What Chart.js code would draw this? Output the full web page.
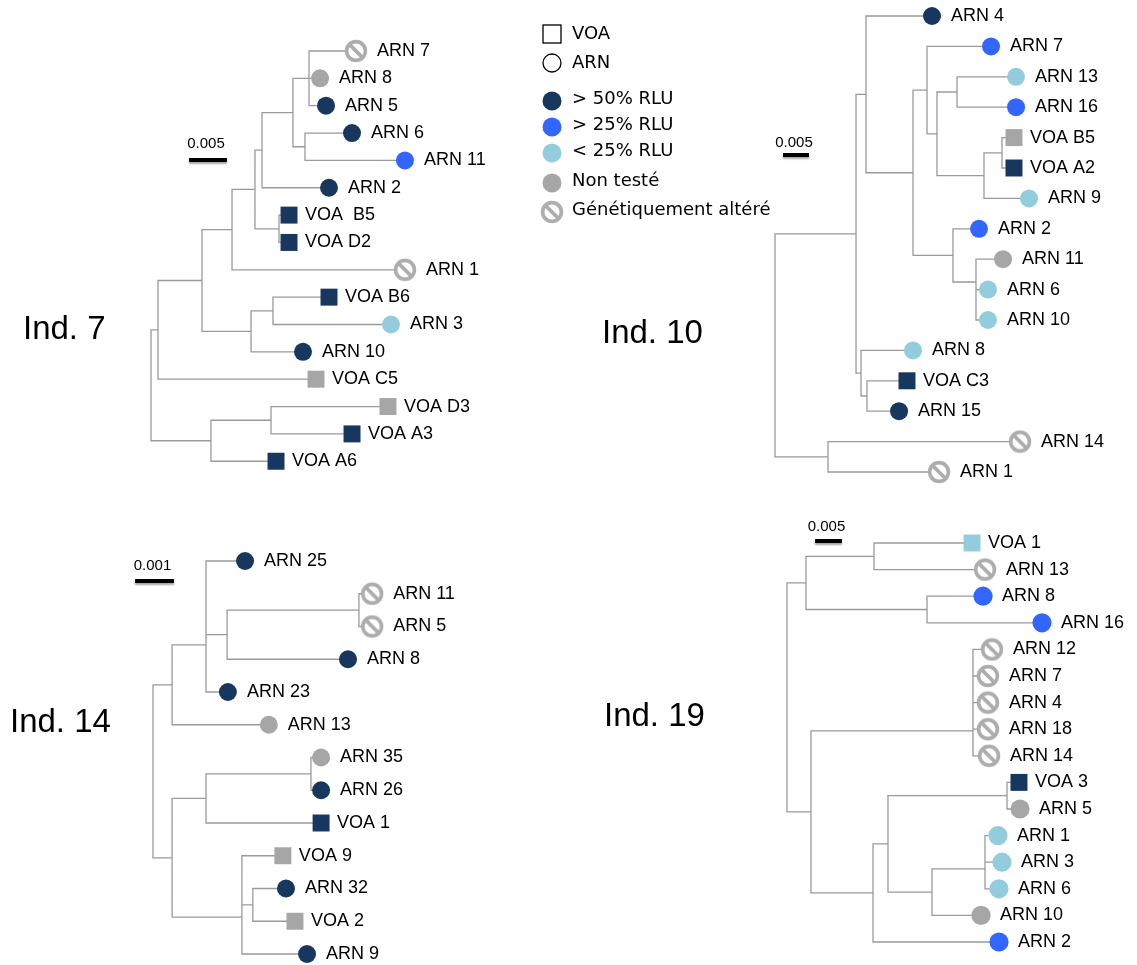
<!DOCTYPE html>
<html>
<head>
<meta charset="utf-8">
<script src="https://cdn.jsdelivr.net/npm/chart.js@4/dist/chart.umd.min.js"></script>
<style>
  html, body { margin: 0; padding: 0; background: #ffffff; }
  #wrap { position: relative; width: 1137px; height: 965px; }
</style>
</head>
<body>
<div id="wrap"><canvas id="c" width="1137" height="965" style="width:1137px;height:965px"></canvas></div>
<script>
// ---------------- DATA ----------------
// Status codes: p50 = > 50% RLU, p25 = > 25% RLU, m25 = < 25% RLU, nt = Non testé, alt = Génétiquement altéré
// Tip / node depths in substitutions per site from the root; "#k" refers to internal node k.

// Ind. 7
const ind7Names  = ["ARN 7","ARN 8","ARN 5","ARN 6","ARN 11","ARN 2","VOA  B5","VOA D2","ARN 1","VOA B6","ARN 3","ARN 10","VOA C5","VOA D3","VOA A3","VOA A6"];
const ind7Status = ["alt","nt","p50","p50","p25","p50","p50","p50","alt","p50","m25","p50","nt","nt","p50","p50"];
const ind7Tip    = [0.02697,0.02224,0.02303,0.02645,0.03342,0.02342,0.01816,0.01816,0.03342,0.02342,0.03158,0.02000,0.02171,0.03118,0.02645,0.01645];
const ind7NodeDepth = [0,0.00092,0.00671,0.01066,0.01368,0.01461,0.01868,0.02079,0.01316,0.01605,0.00789,0.01579,0.01684,0.02026];
const ind7NodeKids  = [["#1","#10"],["#2","VOA C5"],["#3","#8"],["#4","ARN 1"],["#5","#12"],["#6","ARN 2"],["#7","#13"],
  ["ARN 7","ARN 8","ARN 5"],["#9","ARN 10"],["VOA B6","ARN 3"],["#11","VOA A6"],["VOA D3","VOA A3"],["VOA  B5","VOA D2"],["ARN 6","ARN 11"]];

// Ind. 10
const ind10Names  = ["ARN 4","ARN 7","ARN 13","ARN 16","VOA B5","VOA A2","ARN 9","ARN 2","ARN 11","ARN 6","ARN 10","ARN 8","VOA C3","ARN 15","ARN 14","ARN 1"];
const ind10Status = ["p50","p25","m25","p25","nt","p50","m25","p25","nt","m25","m25","m25","p50","p50","alt","alt"];
const ind10Tip    = [0.03019,0.04154,0.04635,0.04635,0.04596,0.04596,0.04885,0.03923,0.04385,0.04096,0.04096,0.02654,0.02538,0.02385,0.04712,0.03154];
const ind10NodeDepth = [0,0.01558,0.0175,0.02654,0.02923,0.03115,0.035,0.04019,0.03423,0.03865,0.01654,0.01769,0.01019,0.04365,0.03865];
const ind10NodeKids  = [["#1","#12"],["#2","#10"],["ARN 4","#3"],["#4","#8"],["ARN 7","#5"],["#6","#7"],["ARN 13","ARN 16"],
  ["#13","ARN 9"],["ARN 2","#9"],["ARN 11","#14"],["ARN 8","#11"],["VOA C3","ARN 15"],["ARN 14","ARN 1"],["VOA B5","VOA A2"],["ARN 6","ARN 10"]];

// Ind. 14
const ind14Names  = ["ARN 25","ARN 11","ARN 5","ARN 8","ARN 23","ARN 13","ARN 35","ARN 26","VOA 1","VOA 9","ARN 32","VOA 2","ARN 9"];
const ind14Status = ["p50","alt","alt","p50","p50","nt","nt","p50","p50","nt","p50","nt","p50"];
const ind14Tip    = [0.00236,0.00562,0.00562,0.00500,0.00192,0.00297,0.00431,0.00431,0.00431,0.00333,0.00341,0.00364,0.00395];
const ind14NodeDepth = [0,0.00049,0.00136,0.00136,0.0019,0.00528,0.00049,0.00136,0.00405,0.00228,0.00228,0.00256];
const ind14NodeKids  = [["#1","#6"],["#2","ARN 13"],["#3","ARN 23"],["ARN 25","#4"],["#5","ARN 8"],["ARN 11","ARN 5"],
  ["#7","#9"],["#8","VOA 1"],["ARN 35","ARN 26"],["#10","ARN 9"],["VOA 9","#11"],["ARN 32","VOA 2"]];

// Ind. 19
const ind19Names  = ["VOA 1","ARN 13","ARN 8","ARN 16","ARN 12","ARN 7","ARN 4","ARN 18","ARN 14","VOA 3","ARN 5","ARN 1","ARN 3","ARN 6","ARN 10","ARN 2"];
const ind19Status = ["m25","alt","p25","p25","alt","alt","alt","alt","alt","p50","nt","m25","m25","m25","nt","p25"];
const ind19Tip    = [0.03426,0.03667,0.03630,0.04722,0.03796,0.03722,0.03722,0.03722,0.03741,0.04296,0.04315,0.03907,0.03981,0.03926,0.03593,0.03926];
const ind19NodeDepth = [0,0.00352,0.01611,0.02593,0.00444,0.03444,0.03444,0.03444,0.03444,0.01593,0.0187,0.04074,0.02685,0.03667,0.03667];
const ind19NodeKids  = [["#1","#4"],["#2","#3"],["VOA 1","ARN 13"],["ARN 8","ARN 16"],["#5","#9"],["#6","ARN 14"],["#7","ARN 18"],
  ["#8","ARN 4"],["ARN 12","ARN 7"],["#10","ARN 2"],["#11","#12"],["VOA 3","ARN 5"],["#13","ARN 10"],["#14","ARN 6"],["ARN 1","ARN 3"]];

// Legend
const legendLabels = ["VOA","ARN","> 50% RLU","> 25% RLU","< 25% RLU","Non testé","Génétiquement altéré"];
const legendKeys   = ["voa","arn","p50","p25","m25","nt","alt"];

// Scale bars and titles
const barLengths = [0.005, 0.005, 0.001, 0.005];
const titles = ["Ind. 7","Ind. 10","Ind. 14","Ind. 19"];

// ---------------- STYLE / LAYOUT ----------------
const W = 1137, H = 965;
const COLORS = { p50: '#17375E', p25: '#3366FF', m25: '#93CDDD', nt: '#A6A6A6', alt: '#ADADAD' };
const LINE_COLOR = '#9A9A9A';
const LABEL_FONT = '18px "Liberation Sans", Arial, Helvetica, sans-serif';
const LEGEND_FONT = '18px "DejaVu Sans", Verdana, sans-serif';

const panels = [
  { id: '7',  names: ind7Names,  status: ind7Status,  tips: ind7Tip,  depth: ind7NodeDepth,  kids: ind7NodeKids,
    rootX: 151, row0Y: 51,  unitPx: 7600,  rowPx: 27.35, circR: 9,
    bar: { x: 189, y: 160, ty: 148 }, title: { x: 23, y: 339 }, bl: barLengths[0], tt: titles[0] },
  { id: '10', names: ind10Names, status: ind10Status, tips: ind10Tip, depth: ind10NodeDepth, kids: ind10NodeKids,
    rootX: 775, row0Y: 16,  unitPx: 5200,  rowPx: 30.4, circR: 9,
    bar: { x: 783, y: 155, ty: 147 }, title: { x: 602, y: 343 }, bl: barLengths[1], tt: titles[1] },
  { id: '14', names: ind14Names, status: ind14Status, tips: ind14Tip, depth: ind14NodeDepth, kids: ind14NodeKids,
    rootX: 153, row0Y: 561, unitPx: 39000, rowPx: 32.75, circR: 9,
    bar: { x: 135, y: 581, ty: 570 }, title: { x: 10, y: 732 }, bl: barLengths[2], tt: titles[2] },
  { id: '19', names: ind19Names, status: ind19Status, tips: ind19Tip, depth: ind19NodeDepth, kids: ind19NodeKids,
    rootX: 787, row0Y: 543, unitPx: 5400,  rowPx: 26.6, circR: 9.6,
    bar: { x: 815, y: 541, ty: 531 }, title: { x: 604, y: 726 }, bl: barLengths[3], tt: titles[3] }
];

function makeAltered() {
  const c = document.createElement('canvas');
  c.width = 26; c.height = 26;
  const g = c.getContext('2d');
  const cx = 13, cy = 13, r = 9.4;
  g.beginPath(); g.arc(cx, cy, r, 0, Math.PI * 2);
  g.fillStyle = '#ffffff'; g.fill();
  g.lineWidth = 3.6; g.strokeStyle = COLORS.alt; g.stroke();
  const d = r * Math.SQRT1_2;
  g.beginPath(); g.moveTo(cx - d, cy - d); g.lineTo(cx + d, cy + d); g.stroke();
  return c;
}
const ALT_IMG = makeAltered();

function treeSegments(p) {
  const yOf = ref => {
    if (ref[0] === '#') { const k = p.kids[+ref.slice(1)]; return (yOf(k[0]) + yOf(k[k.length - 1])) / 2; }
    return p.names.indexOf(ref);
  };
  const xOf = ref => ref[0] === '#' ? p.depth[+ref.slice(1)] : p.tips[p.names.indexOf(ref)];
  const pts = [];
  p.kids.forEach((kids, i) => {
    const d = p.depth[i];
    pts.push({ x: d, y: yOf(kids[0]) }, { x: d, y: yOf(kids[kids.length - 1]) }, { x: null, y: null });
    kids.forEach(k => {
      pts.push({ x: d, y: yOf(k) }, { x: xOf(k), y: yOf(k) }, { x: null, y: null });
    });
  });
  return pts;
}

const scales = {};
const datasets = [];
panels.forEach(p => {
  scales['x' + p.id] = { type: 'linear', axis: 'x', display: false, bounds: 'data',
    min: -p.rootX / p.unitPx, max: (W - p.rootX) / p.unitPx };
  scales['y' + p.id] = { type: 'linear', axis: 'y', display: false, reverse: true, bounds: 'data',
    min: -p.row0Y / p.rowPx, max: (H - p.row0Y) / p.rowPx };
  datasets.push({
    label: 'branches ' + p.id, xAxisID: 'x' + p.id, yAxisID: 'y' + p.id,
    data: treeSegments(p), showLine: true, spanGaps: false,
    borderColor: LINE_COLOR, borderWidth: 1.3, borderCapStyle: 'square',
    pointRadius: 0, order: 2
  });
  datasets.push({
    label: 'leaves ' + p.id, xAxisID: 'x' + p.id, yAxisID: 'y' + p.id,
    data: p.names.map((n, i) => ({ x: p.tips[i], y: i })),
    pointStyle: p.names.map((n, i) => p.status[i] === 'alt' ? ALT_IMG : (n.startsWith('VOA') ? 'rect' : 'circle')),
    pointRadius: p.names.map((n, i) => p.status[i] === 'alt' ? 11 : (n.startsWith('VOA') ? 12 : p.circR)),
    backgroundColor: p.status.map(s => COLORS[s]),
    borderWidth: 0, pointBorderWidth: 0,
    showLine: false, order: 1
  });
});

function drawLegendMarker(ctx, key, x, y) {
  ctx.save();
  if (key === 'voa') {
    ctx.strokeStyle = '#000'; ctx.lineWidth = 1.3;
    ctx.strokeRect(x - 9, y - 9, 18, 18);
  } else if (key === 'arn') {
    ctx.strokeStyle = '#000'; ctx.lineWidth = 1.3;
    ctx.beginPath(); ctx.arc(x, y, 9, 0, Math.PI * 2); ctx.stroke();
  } else if (key === 'alt') {
    ctx.drawImage(ALT_IMG, x - 13, y - 13);
  } else {
    ctx.fillStyle = COLORS[key];
    ctx.beginPath(); ctx.arc(x, y, 9.5, 0, Math.PI * 2); ctx.fill();
  }
  ctx.restore();
}

const textPlugin = {
  id: 'treeText',
  afterDatasetsDraw(chart) {
    const ctx = chart.ctx;
    ctx.save();
    panels.forEach(p => {
      const xs = chart.scales['x' + p.id], ys = chart.scales['y' + p.id];
      // leaf labels
      ctx.font = LABEL_FONT; ctx.fillStyle = '#000';
      ctx.textAlign = 'left'; ctx.textBaseline = 'middle';
      p.names.forEach((n, i) => {
        const off = p.status[i] === 'alt' ? 21 : (n.startsWith('VOA') ? 16 : 19);
        ctx.fillText(n, xs.getPixelForValue(p.tips[i]) + off, ys.getPixelForValue(i));
      });
      // scale bar
      const len = xs.getPixelForValue(p.bl) - xs.getPixelForValue(0);
      ctx.save();
      ctx.shadowColor = 'rgba(0,0,0,0.35)'; ctx.shadowBlur = 2; ctx.shadowOffsetY = 2;
      ctx.fillStyle = '#000';
      ctx.fillRect(p.bar.x, p.bar.y - 2, len, 4);
      ctx.restore();
      ctx.font = '15px "Liberation Sans", Arial, sans-serif';
      ctx.textAlign = 'center'; ctx.textBaseline = 'alphabetic';
      ctx.fillText(p.bl.toFixed(3), p.bar.x + len / 2 - 2, p.bar.ty);
      // title
      ctx.font = '33px "Liberation Sans", Arial, sans-serif';
      ctx.textAlign = 'left';
      ctx.fillText(p.tt, p.title.x, p.title.y);
    });
    // legend
    const legendY = [34, 63, 101, 127, 153, 183, 212];
    ctx.font = LEGEND_FONT; ctx.textAlign = 'left'; ctx.textBaseline = 'middle'; ctx.fillStyle = '#000';
    legendKeys.forEach((k, i) => {
      drawLegendMarker(ctx, k, 552, legendY[i]);
      ctx.fillStyle = '#000';
      ctx.fillText(legendLabels[i], 572, legendY[i] - (i > 1 ? 2 : 0));
    });
    ctx.restore();
  }
};

new Chart(document.getElementById('c'), {
  type: 'scatter',
  data: { datasets },
  options: {
    responsive: false, devicePixelRatio: 1, animation: false, events: [],
    layout: { padding: 0, autoPadding: false },
    scales,
    plugins: { legend: { display: false }, tooltip: { enabled: false }, title: { display: false } }
  },
  plugins: [textPlugin]
});
</script>
</body>
</html>
